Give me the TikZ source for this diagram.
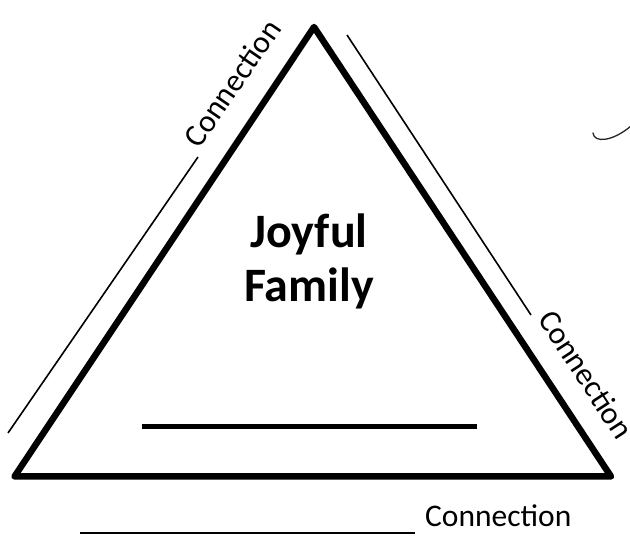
\documentclass[tikz,border=0pt]{standalone}
\usepackage{fontspec}
\setmainfont{Carlito}
\begin{document}
\begin{tikzpicture}[x=1pt,y=-1pt,
  edge/.style={line width=6.5pt,line join=round,line cap=round},
  blank/.style={line width=1.6pt},
  conn/.style={font=\fontsize{31.5}{38}\selectfont,inner sep=0pt,anchor=base west}]
\useasboundingbox[fill=white] (0,0) rectangle (630,537);
% triangle
\coordinate (A) at (314,27);
\coordinate (L) at (14.5,476.5);
\coordinate (R) at (611,476.5);
\draw[edge] (A) -- (R) -- (L) -- cycle;
% title
\node[font=\bfseries\fontsize{48}{54}\selectfont,align=center,inner sep=0pt] (title) at (309,261) {Joyful\\Family};
% inner blank
\coordinate (b1) at (142,427);
\coordinate (b2) at (477,427);
\draw[line width=5pt] (b1) -- (b2);
% bottom connection
\coordinate (u1) at (80,533);
\coordinate (u2) at (415,533);
\draw[blank] (u1) -- (u2);
\node[conn] (cb) at (425,527) {Connection};
% left connection
\coordinate (l1) at (8,433);
\coordinate (l2) at (198,157);
\draw[blank] (l1) -- (l2);
\node[conn,rotate=55.5] (cl) at (199.5,149.5) {Connection};
% right connection
\coordinate (r1) at (347,35);
\coordinate (r2) at (531,315);
\draw[blank] (r1) -- (r2);
\node[conn,rotate=-56.8] (cr) at (537,319) {Connection};
% small stray mark
\coordinate (m1) at (593,133);
\coordinate (m2) at (631,126);
\draw[line width=1.3pt,line cap=round,black!85] (m1) .. controls (594,143) and (612,142) .. (m2);
\end{tikzpicture}
\end{document}
